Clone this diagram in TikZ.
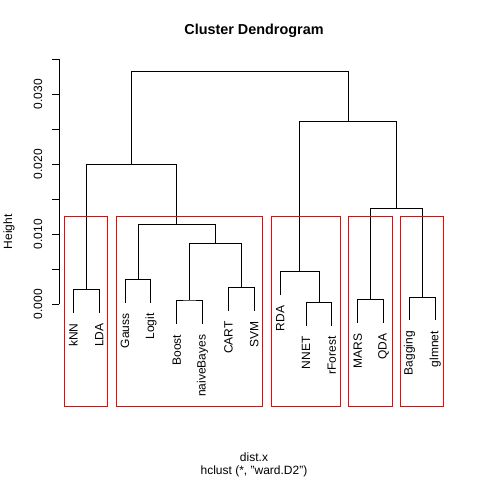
\documentclass[tikz,border=0pt]{standalone}
\usepackage{fontspec}
\setmainfont{Liberation Sans}
\tikzset{
  branch/.style={black,line width=1pt},
  clusterbox/.style={draw=red,line width=1pt},
  leaflabel/.style={rotate=90,anchor=east,inner sep=0pt,font=\fontsize{12}{14}\selectfont},
  ticklabel/.style={rotate=90,inner sep=0pt,font=\fontsize{12}{14}\selectfont},
  plaintext/.style={inner sep=0pt,font=\fontsize{12}{14}\selectfont}
}

\begin{document}
\begin{tikzpicture}[x=1pt,y=-1pt]
\useasboundingbox (0,0) rectangle (480,480);
% title and axis texts
\node[inner sep=0pt,font=\fontsize{14.4}{16}\selectfont\bfseries] (title) at (254,31) {Cluster Dendrogram};
\node[ticklabel] (ylab) at (9,231.7) {Height};
\node[plaintext] (xlab) at (254,457.5) {dist.x};
\node[plaintext] (sublab) at (254,471.5) {hclust (*, "ward.D2")};
% y axis
\draw[branch] (59.3,304.3) -- (59.3,59.3);
\draw[branch] (51.8,304.3) -- (59.3,304.3);
\draw[branch] (51.8,269.3) -- (59.3,269.3);
\draw[branch] (51.8,234.3) -- (59.3,234.3);
\draw[branch] (51.8,199.3) -- (59.3,199.3);
\draw[branch] (51.8,164.3) -- (59.3,164.3);
\draw[branch] (51.8,129.3) -- (59.3,129.3);
\draw[branch] (51.8,94.3) -- (59.3,94.3);
\draw[branch] (51.8,59.3) -- (59.3,59.3);
\node[ticklabel] (t0) at (38,304.3) {0.000};
\node[ticklabel] (t1) at (38,234.3) {0.010};
\node[ticklabel] (t2) at (38,164.3) {0.020};
\node[ticklabel] (t3) at (38,94.3) {0.030};
% leaves
\coordinate (kNN) at (73.3,312.7);
\coordinate (LDA) at (99.2,312.7);
\coordinate (Gauss) at (125.0,302.7);
\coordinate (Logit) at (150.9,302.7);
\coordinate (Boost) at (176.7,324);
\coordinate (naiveBayes) at (202.6,324);
\coordinate (CART) at (228.5,310.7);
\coordinate (SVM) at (254.3,310.7);
\coordinate (RDA) at (280.2,295);
\coordinate (NNET) at (306.0,325.7);
\coordinate (rForest) at (331.9,325.7);
\coordinate (MARS) at (357.8,322.7);
\coordinate (QDA) at (383.6,322.7);
\coordinate (Bagging) at (409.5,320.3);
\coordinate (glmnet) at (435.3,320.3);
% leaf labels
\node[leaflabel] (lkNN) at ([yshift=-10.5pt]kNN) {kNN};
\node[leaflabel] (lLDA) at ([yshift=-10.5pt]LDA) {LDA};
\node[leaflabel] (lGauss) at ([yshift=-10.5pt]Gauss) {Gauss};
\node[leaflabel] (lLogit) at ([yshift=-10.5pt]Logit) {Logit};
\node[leaflabel] (lBoost) at ([yshift=-10.5pt]Boost) {Boost};
\node[leaflabel] (lnaiveBayes) at ([yshift=-10.5pt]naiveBayes) {naiveBayes};
\node[leaflabel] (lCART) at ([yshift=-10.5pt]CART) {CART};
\node[leaflabel] (lSVM) at ([yshift=-10.5pt]SVM) {SVM};
\node[leaflabel] (lRDA) at ([yshift=-10.5pt]RDA) {RDA};
\node[leaflabel] (lNNET) at ([yshift=-10.5pt]NNET) {NNET};
\node[leaflabel] (lrForest) at ([yshift=-10.5pt]rForest) {rForest};
\node[leaflabel] (lMARS) at ([yshift=-10.5pt]MARS) {MARS};
\node[leaflabel] (lQDA) at ([yshift=-10.5pt]QDA) {QDA};
\node[leaflabel] (lBagging) at ([yshift=-10.5pt]Bagging) {Bagging};
\node[leaflabel] (lglmnet) at ([yshift=-10.5pt]glmnet) {glmnet};
% merges
\coordinate (m1) at (86.3,289.3);
\coordinate (m2) at (138.0,279.3);
\coordinate (m3) at (189.7,300);
\coordinate (m4) at (241.4,287.3);
\coordinate (m5) at (215.5,243.3);
\coordinate (m6) at (176.8,224.3);
\coordinate (m7) at (131.5,164.3);
\coordinate (m8) at (319.0,302.3);
\coordinate (m9) at (299.6,271.3);
\coordinate (m10) at (370.7,299.3);
\coordinate (m11) at (422.4,297.3);
\coordinate (m12) at (396.5,208.3);
\coordinate (m13) at (348.1,121.3);
\coordinate (m14) at (239.8,71.3);
\draw[branch] (kNN) |- (m1) -| (LDA);
\draw[branch] (Gauss) |- (m2) -| (Logit);
\draw[branch] (Boost) |- (m3) -| (naiveBayes);
\draw[branch] (CART) |- (m4) -| (SVM);
\draw[branch] (m3) |- (m5) -| (m4);
\draw[branch] (m2) |- (m6) -| (m5);
\draw[branch] (m1) |- (m7) -| (m6);
\draw[branch] (NNET) |- (m8) -| (rForest);
\draw[branch] (RDA) |- (m9) -| (m8);
\draw[branch] (MARS) |- (m10) -| (QDA);
\draw[branch] (Bagging) |- (m11) -| (glmnet);
\draw[branch] (m10) |- (m12) -| (m11);
\draw[branch] (m9) |- (m13) -| (m12);
\draw[branch] (m7) |- (m14) -| (m13);
% cluster boxes
\draw[clusterbox] (64.3,216) rectangle (107.3,406);
\draw[clusterbox] (116.3,216) rectangle (262.3,406);
\draw[clusterbox] (271.3,216) rectangle (340.3,406);
\draw[clusterbox] (348.3,216) rectangle (392.3,406);
\draw[clusterbox] (400.3,216) rectangle (443.3,406);
\end{tikzpicture}
\end{document}
